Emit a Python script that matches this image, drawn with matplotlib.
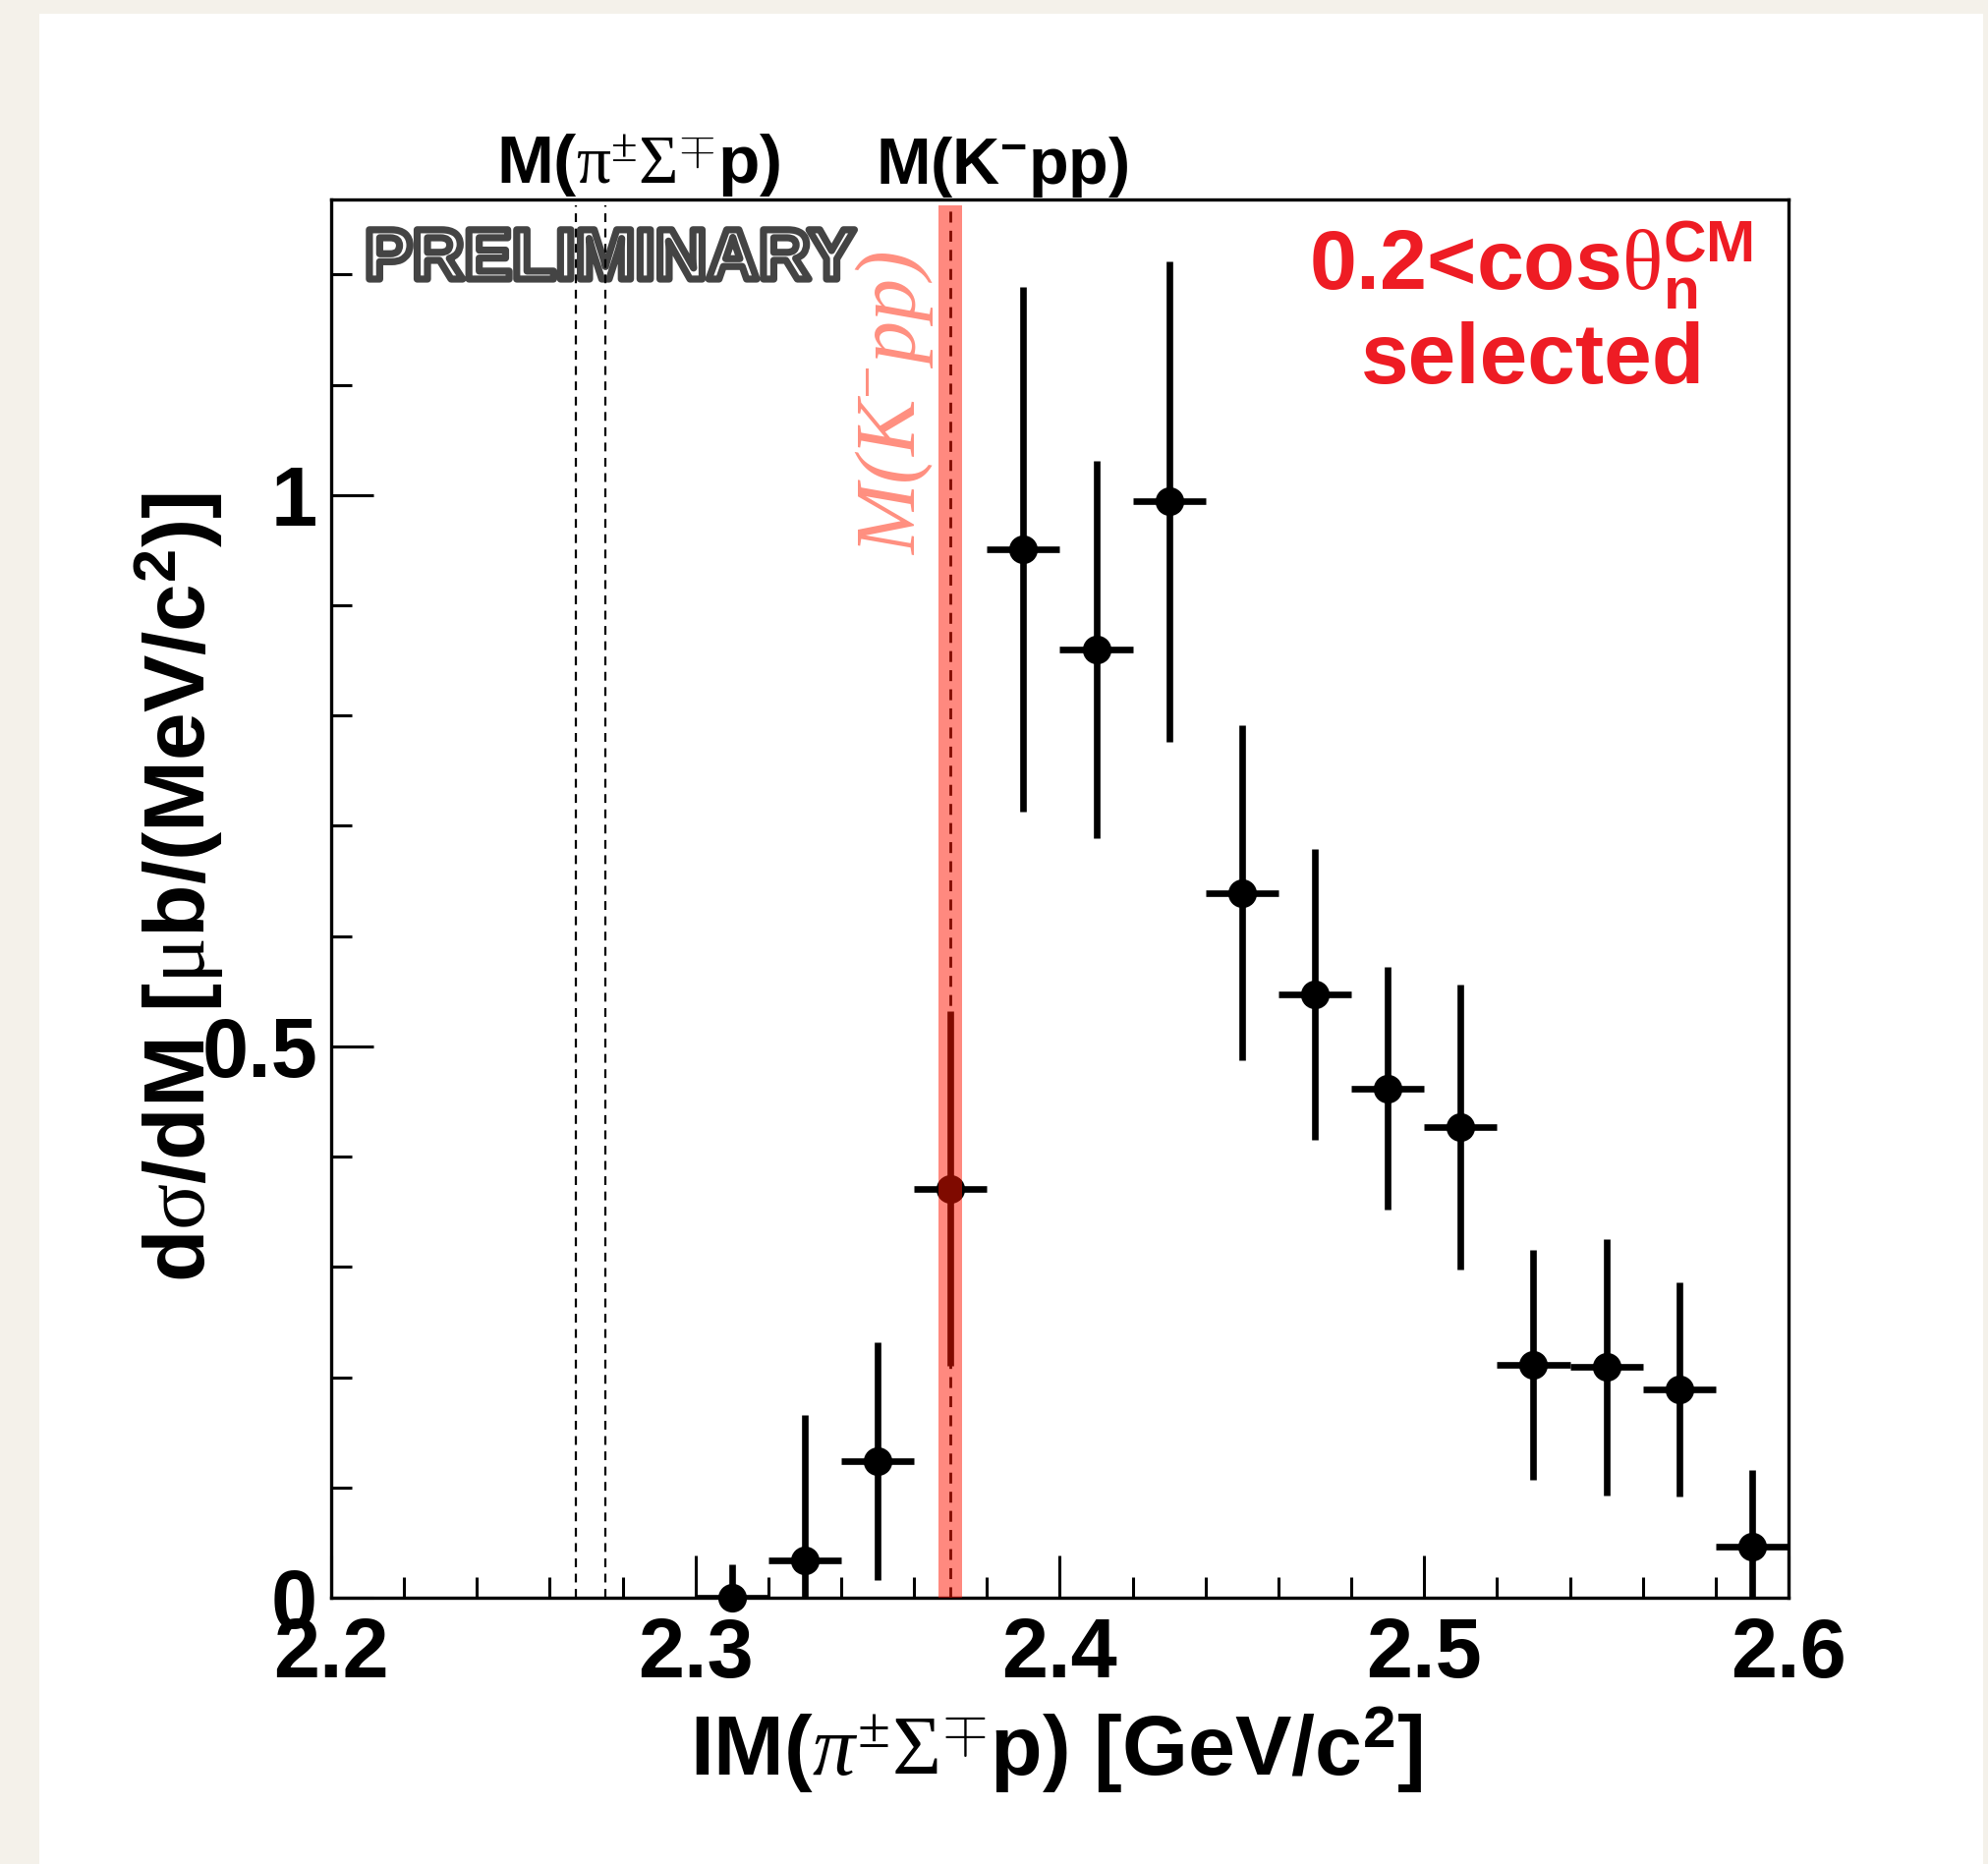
import matplotlib
matplotlib.use('Agg')
import matplotlib.pyplot as plt
import matplotlib.patheffects as pe
from matplotlib.patches import Rectangle
from matplotlib.ticker import MultipleLocator

W, H = 2023, 1897
DPI = 100

# ---- data ----
mass = [2.31, 2.33, 2.35, 2.37, 2.39, 2.41, 2.43, 2.45, 2.47, 2.49, 2.51, 2.53, 2.55, 2.57, 2.59]
xsec = [0.000, 0.034, 0.124, 0.371, 0.951, 0.860, 0.994, 0.639, 0.547, 0.462, 0.427, 0.211, 0.209, 0.189, 0.046]
xsec_err = [0.030, 0.132, 0.108, 0.161, 0.238, 0.171, 0.218, 0.152, 0.132, 0.110, 0.129, 0.104, 0.116, 0.097, 0.070]
bin_halfwidth = 0.01

thr_pisigp = [2.2672, 2.2753]
m_kpp = 2.370
kpp_halfband = 0.0032

x_ticks = [2.2, 2.3, 2.4, 2.5, 2.6]
x_ticklabels = ['2.2', '2.3', '2.4', '2.5', '2.6']
y_ticks = [0, 0.5, 1]
y_ticklabels = ['0', '0.5', '1']

plt.rcParams['font.family'] = ['Liberation Sans', 'DejaVu Sans']
plt.rcParams['font.weight'] = 'bold'
plt.rcParams['mathtext.fontset'] = 'custom'
plt.rcParams['mathtext.rm'] = 'Liberation Serif:weight=normal'
plt.rcParams['mathtext.it'] = 'Liberation Serif:italic:weight=normal'
plt.rcParams['mathtext.bf'] = 'Liberation Sans:bold'
plt.rcParams['mathtext.sf'] = 'Liberation Sans:bold'

fig = plt.figure(figsize=(W / DPI, H / DPI), dpi=DPI)
fig.patch.set_facecolor('#F4F1EA')
fig.patches.append(Rectangle((40 / W, 0), (2018 - 40) / W, 1 - 14 / H,
                             transform=fig.transFigure, facecolor='white',
                             edgecolor='none', zorder=-10))


def fx(px):
    return px / W


def fy(py):
    return 1 - py / H


ax = fig.add_axes([fx(337), fy(1626), (1820 - 337) / W, (1626 - 203) / H])
ax.set_facecolor('white')
YMAX = 1.268
ax.set_xlim(2.2, 2.6)
ax.set_ylim(0, YMAX)
for s in ax.spines.values():
    s.set_linewidth(2.4)

ax.set_xticks(x_ticks)
ax.set_xticklabels(x_ticklabels)
ax.set_yticks(y_ticks)
ax.set_yticklabels(y_ticklabels)
ax.xaxis.set_minor_locator(MultipleLocator(0.02))
ax.yaxis.set_minor_locator(MultipleLocator(0.1))
ax.tick_params(which='both', direction='in', top=False, right=False, width=2.2)
ax.tick_params(which='major', length=31, labelsize=61)
ax.tick_params(which='minor', length=15)
ax.tick_params(axis='x', which='major', pad=14)
ax.tick_params(axis='y', which='major', pad=10)

# threshold lines
ax.vlines(thr_pisigp, 0, 1.263, colors='black', linestyles=(0, (4, 3)),
          linewidth=1.6, zorder=2)
ax.vlines([m_kpp], 0, 1.263, colors='black', linestyles=(0, (4, 3)),
          linewidth=2.0, zorder=2)

# data
ax.errorbar(mass, xsec, yerr=xsec_err, xerr=bin_halfwidth, fmt='none',
            ecolor='black', elinewidth=4.8, capsize=0, zorder=3)
ax.plot(mass, xsec, 'o', color='black', markersize=20, clip_on=False, zorder=4)

# M(K-pp) band
ax.axvspan(m_kpp - kpp_halfband, m_kpp + kpp_halfband, ymin=0, ymax=1.2625 / YMAX,
           facecolor=(1.0, 0.08, 0.0), alpha=0.5, lw=0, zorder=5)

# PRELIMINARY (outlined)
ax.text(fx(371), fy(284), 'PRELIMINARY', transform=fig.transFigure,
        fontsize=52.5, color='white', fontweight='bold', ha='left', va='baseline',
        path_effects=[pe.Stroke(linewidth=5.2, foreground='#444444')], zorder=1)

# rotated salmon label
ax.text(fx(910), fy(410), r'M(K$^{-}$pp)', transform=fig.transFigure,
        fontsize=62, color='#FF8F80', family='Liberation Serif', style='italic',
        fontweight='normal', rotation=90, ha='center', va='center', zorder=6)

# labels above frame
fig.text(fx(650), fy(187), r'M($\mathrm{\pi}^{\pm}\Sigma^{\mp}$p)', fontsize=50,
         ha='center', va='baseline', fontweight='bold')
fig.text(fx(1020), fy(187), r'M(K$^{\mathbf{-}}$pp)', fontsize=48,
         ha='center', va='baseline', fontweight='bold')

# red selection text
red = '#EE1C24'
fig.text(fx(1558), fy(294), r'0.2<cos$\mathrm{\theta}_{\mathbf{n}}^{\mathbf{CM}}$',
         fontsize=62, color=red, ha='center', va='baseline', fontweight='bold')
fig.text(fx(1560), fy(390), 'selected', fontsize=63, color=red,
         ha='center', va='baseline', fontweight='bold')

# axis titles
fig.text(fx(1075), fy(1806), r'IM($\pi^{\pm}\Sigma^{\mp}$p) [GeV/c$^{\mathbf{2}}$]',
         fontsize=62, ha='center', va='baseline', fontweight='bold')
fig.text(fx(209), fy(903), r'd$\mathrm{\sigma}$/dM [$\mathrm{\mu}$b/(MeV/c$^{\mathbf{2}}$)]',
         fontsize=63, ha='center', va='baseline', rotation=90,
         rotation_mode='anchor', fontweight='bold')

fig.savefig('out.png', dpi=DPI, facecolor=fig.get_facecolor())
